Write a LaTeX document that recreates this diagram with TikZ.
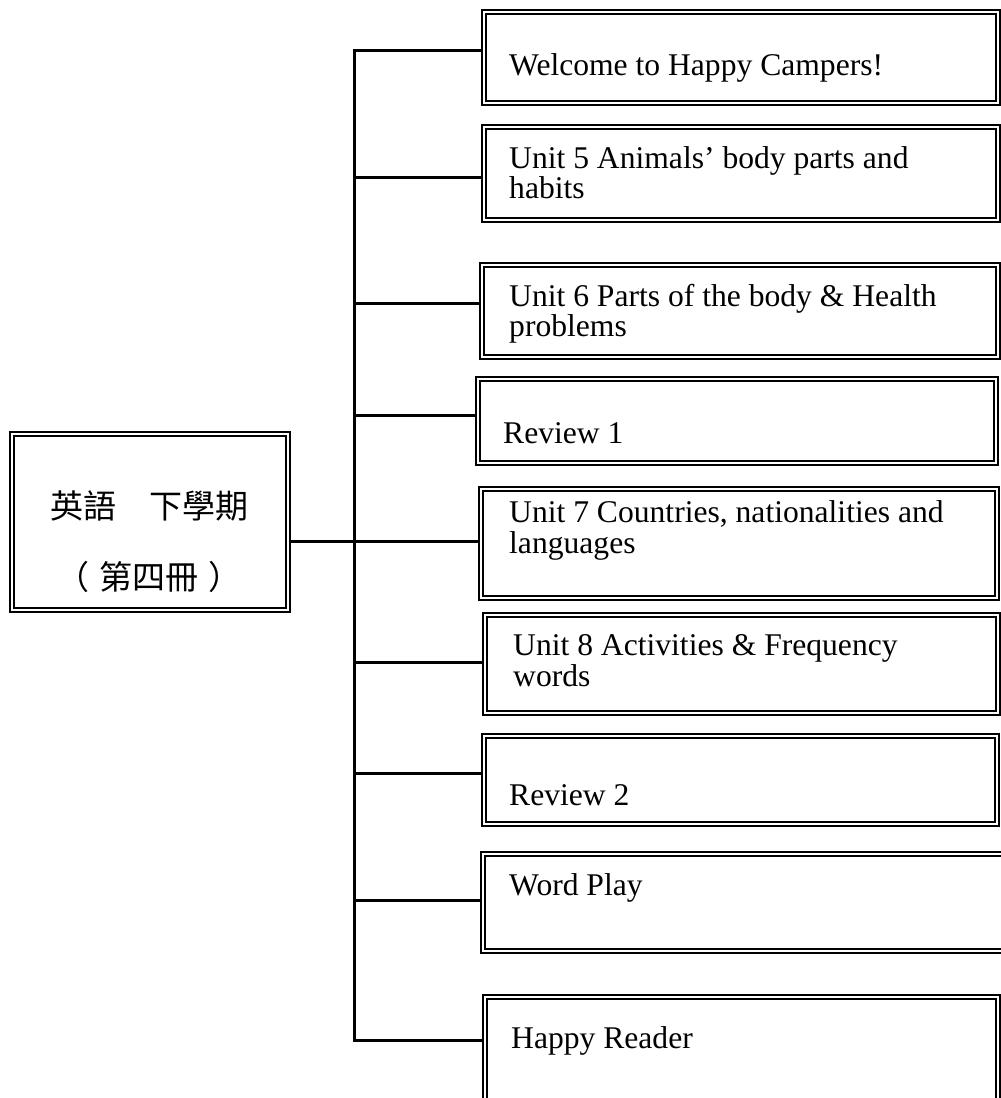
\documentclass[tikz,border=0pt]{standalone}
\usepackage{fontspec}
\setmainfont{Liberation Serif}
\newfontfamily\cjk{Noto Sans CJK TC}
\newcommand\dblbox[5]{%
  \node[outerbox, minimum width=#4-#2, minimum height=#5-#3] (#1) at (#2,#3) {};
  \draw[innerline] ([shift={(4,4)}]#1.north west) rectangle ([shift={(-4,-4)}]#1.south east);}
\begin{document}
\begin{tikzpicture}[x=1pt,y=-1pt,
  outerbox/.style={draw, line width=1.1pt, inner sep=0pt, outer sep=0pt, anchor=north west},
  innerline/.style={line width=2.6pt},
  conn/.style={line width=3pt, line cap=butt, line join=miter},
  lbl/.style={anchor=base west, inner sep=0pt, font=\fontsize{31.6}{30}\selectfont},
  cjklbl/.style={anchor=center, inner sep=0pt, font=\cjk\fontsize{33}{33}\selectfont}]
\useasboundingbox (0,0) rectangle (1001,1098);
\clip (0,0) rectangle (1001,1098);
\fill[white] (0,0) rectangle (1001,1098);

% boxes
\dblbox{L}{10}{432}{290}{612}
\dblbox{b1}{482}{10}{1000}{105}
\dblbox{b2}{482}{125}{1000}{222}
\dblbox{b3}{480}{263}{1000}{359}
\dblbox{b4}{476}{377}{998}{465}
\dblbox{b5}{479}{487}{999}{600}
\dblbox{b6}{483}{613}{1000}{715}
\dblbox{b7}{482}{734}{999}{826}
\dblbox{b8}{481}{852}{1010}{953}
\dblbox{b9}{483}{995}{1000}{1110}

% texts
\node[cjklbl] (c1) at (149,506) {英語\hspace{1em}下學期};
\node[cjklbl] (c2) at (149,577) {（\hspace{0.3em}第四冊\hspace{0.3em}）};
\node[lbl] (t1) at (509,75) {Welcome to Happy Campers!};
\node[lbl] (t2a) at (509,168) {Unit 5 Animals’ body parts and};
\node[lbl] (t2b) at (509,198) {habits};
\node[lbl] (t3a) at (509,306) {Unit 6 Parts of the body \& Health};
\node[lbl] (t3b) at (509,336) {problems};
\node[lbl] (t4) at (503,443) {Review 1};
\node[lbl] (t5a) at (509,522) {Unit 7 Countries, nationalities and};
\node[lbl] (t5b) at (509,553) {languages};
\node[lbl] (t6a) at (513,655) {Unit 8 Activities \& Frequency};
\node[lbl] (t6b) at (513,686) {words};
\node[lbl] (t7) at (509,805) {Review 2};
\node[lbl] (t8) at (509,895) {Word Play};
\node[lbl] (t9) at (511,1048) {Happy Reader};

% connectors
\coordinate (j1) at (354,50);
\coordinate (j2) at (354,177);
\coordinate (j3) at (354,303);
\coordinate (j4) at (354,415);
\coordinate (j5) at (354,541);
\coordinate (j6) at (354,662);
\coordinate (j7) at (354,773);
\coordinate (j8) at (354,900);
\coordinate (j9) at (354,1040);
\draw[conn] (j1 -| b1.west) -- (j1) -- (j9) -- (j9 -| b9.west);
\draw[conn] (j2) -- (j2 -| b2.west);
\draw[conn] (j3) -- (j3 -| b3.west);
\draw[conn] (j4) -- (j4 -| b4.west);
\draw[conn] (j5) -- (j5 -| b5.west);
\draw[conn] (j6) -- (j6 -| b6.west);
\draw[conn] (j7) -- (j7 -| b7.west);
\draw[conn] (j8) -- (j8 -| b8.west);
\draw[conn] (L.east |- j5) -- (j5);
\end{tikzpicture}
\end{document}
